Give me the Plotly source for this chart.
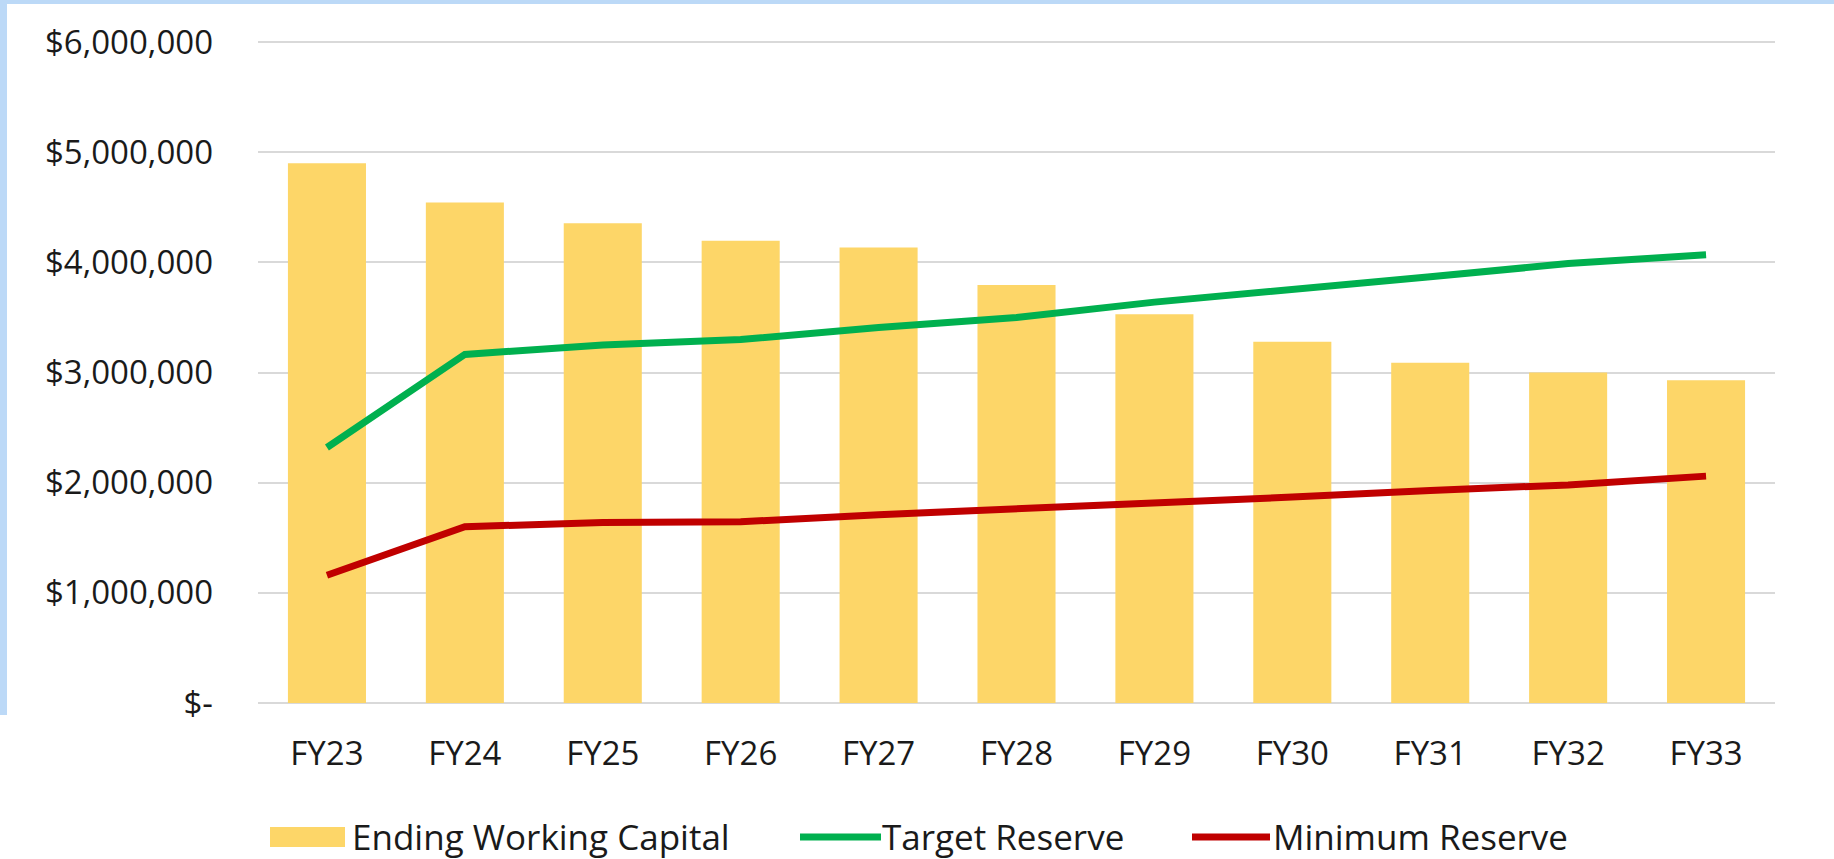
import plotly.graph_objects as go

categories = ["FY23", "FY24", "FY25", "FY26", "FY27", "FY28", "FY29", "FY30", "FY31", "FY32", "FY33"]
ending_working_capital = [4900000, 4545000, 4355000, 4197000, 4136000, 3795000, 3530000, 3280000, 3090000, 3000000, 2930000]
target_reserve = [2320000, 3165000, 3250000, 3300000, 3410000, 3500000, 3640000, 3750000, 3870000, 3990000, 4070000]
minimum_reserve = [1160000, 1600000, 1640000, 1645000, 1710000, 1760000, 1810000, 1870000, 1930000, 1980000, 2060000]
y_tickvals = [0, 1000000, 2000000, 3000000, 4000000, 5000000, 6000000]
y_ticktext = ["$-", "$1,000,000", "$2,000,000", "$3,000,000", "$4,000,000", "$5,000,000", "$6,000,000"]
series_names = ["Ending Working Capital", "Target Reserve", "Minimum Reserve"]
series_colors = ["#FDD668", "#00B04F", "#C00000"]

W, H = 1834, 859
L, R, T, B = 258, 59, 40, 156
pw, ph = W - L - R, H - T - B

def px_x(p):
    return (p - L) / pw

def px_y(p):
    return (H - B - p) / ph

FONT = "Open Sans, Noto Sans, sans-serif"
TXT = "#1a1a1a"
fig = go.Figure()
fig.add_trace(go.Bar(x=categories, y=ending_working_capital, name=series_names[0],
                     marker=dict(color=series_colors[0], line=dict(width=0))))
fig.add_trace(go.Scatter(x=categories, y=target_reserve, name=series_names[1], mode="lines",
                         line=dict(color=series_colors[1], width=7)))
fig.add_trace(go.Scatter(x=categories, y=minimum_reserve, name=series_names[2], mode="lines",
                         line=dict(color=series_colors[2], width=7)))

# legend drawn below the plot (swatches + real text)
leg_y = px_y(837)
shapes = [
    dict(type="rect", xref="paper", yref="paper", x0=px_x(270), x1=px_x(345), y0=px_y(847), y1=px_y(827),
         fillcolor=series_colors[0], line=dict(width=0)),
    dict(type="line", xref="paper", yref="paper", x0=px_x(800), x1=px_x(881), y0=leg_y, y1=leg_y,
         line=dict(color=series_colors[1], width=7)),
    dict(type="line", xref="paper", yref="paper", x0=px_x(1192), x1=px_x(1270), y0=leg_y, y1=leg_y,
         line=dict(color=series_colors[2], width=7)),
    dict(type="rect", xref="paper", yref="paper", x0=px_x(0), x1=px_x(W), y0=px_y(0), y1=px_y(4),
         fillcolor="#BCD9F7", line=dict(width=0), layer="above"),
    dict(type="rect", xref="paper", yref="paper", x0=px_x(0), x1=px_x(7), y0=px_y(0), y1=px_y(715),
         fillcolor="#BCD9F7", line=dict(width=0), layer="above"),
]
annotations = [
    dict(text=series_names[0], xref="paper", yref="paper", x=px_x(350), y=px_y(836), xanchor="left",
         yanchor="middle", showarrow=False, font=dict(size=35, color=TXT)),
    dict(text=series_names[1], xref="paper", yref="paper", x=px_x(880), y=px_y(836), xanchor="left",
         yanchor="middle", showarrow=False, font=dict(size=35, color=TXT)),
    dict(text=series_names[2], xref="paper", yref="paper", x=px_x(1271), y=px_y(836), xanchor="left",
         yanchor="middle", showarrow=False, font=dict(size=35, color=TXT)),
]

fig.update_layout(
    width=W, height=H,
    margin=dict(l=L, r=R, t=T, b=B),
    paper_bgcolor="white", plot_bgcolor="white",
    bargap=0.434,
    font=dict(family=FONT, size=33, color=TXT),
    showlegend=False,
    xaxis=dict(showgrid=False, showline=False, ticks="", ticklabelstandoff=28,
               tickfont=dict(size=33)),
    yaxis=dict(range=[0, 6020000], tickvals=y_tickvals, ticktext=y_ticktext,
               showgrid=True, gridcolor="#D9D9D9", gridwidth=2,
               zeroline=True, zerolinecolor="#D9D9D9", zerolinewidth=2,
               showline=False, ticks="", ticklabelstandoff=44, tickfont=dict(size=33)),
    shapes=shapes,
    annotations=annotations,
)

fig.write_html("out.html", config={"displayModeBar": False},
               post_script="document.body.style.margin='0';")
